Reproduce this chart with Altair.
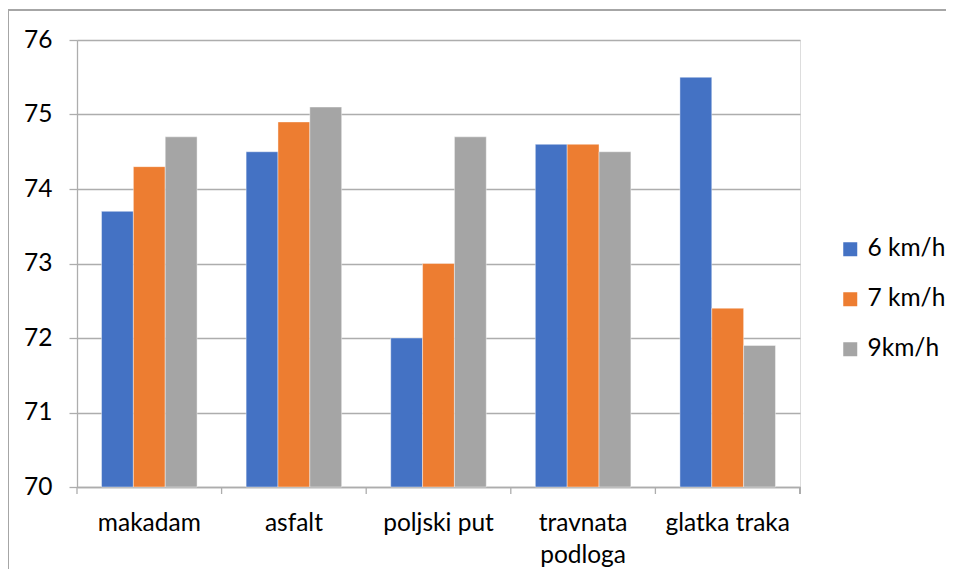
import altair as alt
import pandas as pd

categories = ["makadam", "asfalt", "poljski put", "travnata podloga", "glatka traka"]
series = ["6 km/h", "7 km/h", "9km/h"]
v6 = [73.7, 74.5, 72.0, 74.6, 75.5]
v7 = [74.3, 74.9, 73.0, 74.6, 72.4]
v9 = [74.7, 75.1, 74.7, 74.5, 71.9]
colors = ["#4472C4", "#ED7D31", "#A5A5A5"]
y_ticks = [70, 71, 72, 73, 74, 75, 76]

rows = []
for s, vals in zip(series, [v6, v7, v9]):
    for c, v in zip(categories, vals):
        rows.append({"cat": c, "series": s, "value": v})
df = pd.DataFrame(rows)
cat_df = pd.DataFrame({"cat": categories})

W, H = 723, 447
FONT = "Lato"
FS = 24.5
GRID = "#ADADAD"

xscale = alt.Scale(domain=categories, paddingInner=0, paddingOuter=0)

bars = alt.Chart(df).mark_bar(stroke="white", strokeWidth=0.6, strokeOpacity=0.7).encode(
    x=alt.X("cat:N", sort=categories, scale=xscale, title=None,
            axis=alt.Axis(labelAngle=0, ticks=False, domain=True, domainColor=GRID,
                          domainWidth=1.3, labelPadding=24, labelFont=FONT,
                          labelFontSize=FS, labelColor="#000000", labelLineHeight=32,
                          labelExpr="datum.label == 'travnata podloga' ? ['travnata', 'podloga'] : datum.label")),
    xOffset=alt.XOffset("series:N", sort=series,
                        scale=alt.Scale(domain=series, paddingInner=0, paddingOuter=0.77)),
    y=alt.Y("value:Q", scale=alt.Scale(domain=[70, 76], nice=False, zero=False), title=None,
            axis=alt.Axis(values=y_ticks, grid=True, gridColor=GRID, gridWidth=1.3,
                          domain=True, domainColor=GRID, domainWidth=1.3,
                          tickColor=GRID, tickSize=8, tickWidth=1.3,
                          labelPadding=17, labelFont=FONT, labelFontSize=FS,
                          labelColor="#000000")),
    y2=alt.datum(70),
    color=alt.Color("series:N", sort=series,
                    scale=alt.Scale(domain=series, range=colors),
                    legend=alt.Legend(title=None, orient="none", legendX=761, legendY=197,
                                      symbolType="square", symbolSize=196,
                                      symbolStrokeWidth=0, labelFont=FONT,
                                      labelFontSize=FS, labelColor="#000000",
                                      labelOffset=5, rowPadding=25, padding=0)),
)

ticks = alt.Chart(cat_df).mark_rule(color=GRID, strokeWidth=1.3).encode(
    x=alt.X("cat:N", sort=categories, bandPosition=0),
    y=alt.value(H),
    y2=alt.value(H + 7),
)
end_tick = alt.Chart(cat_df).mark_rule(color=GRID, strokeWidth=1.3).encode(
    x=alt.value(W),
    y=alt.value(H),
    y2=alt.value(H + 7),
)

frame_top = alt.Chart(cat_df).mark_rule(color="#A6A6A6", strokeWidth=1.5).encode(
    x=alt.value(-69), x2=alt.value(W + 200), y=alt.value(-30),
)
frame_left = alt.Chart(cat_df).mark_rule(color="#A6A6A6", strokeWidth=1.5).encode(
    x=alt.value(-69), y=alt.value(-30), y2=alt.value(H + 200),
)

chart = alt.layer(bars, ticks, end_tick, frame_top, frame_left).properties(
    width=W, height=H,
    autosize=alt.AutoSizeParams(type="none"),
    padding={"left": 69, "top": 32, "right": 146, "bottom": 82},
).configure_view(stroke=None).configure(font=FONT)

chart.save("out.html", embed_options={"renderer": "svg", "actions": False})
